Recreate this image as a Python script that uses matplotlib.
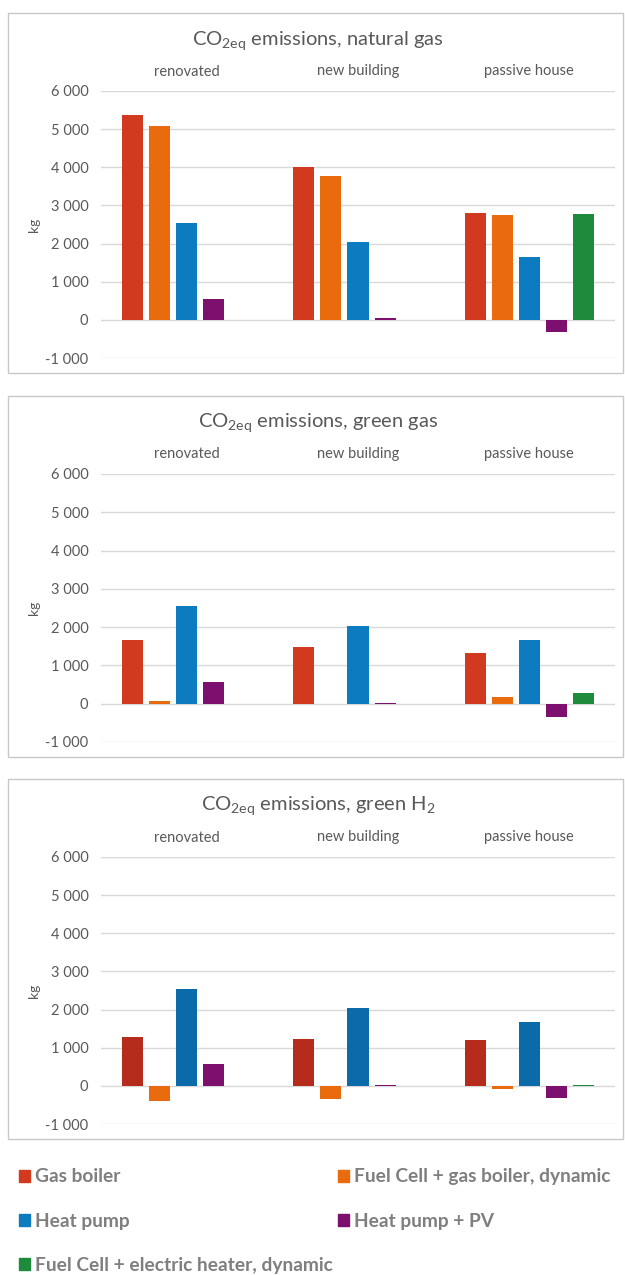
import matplotlib
matplotlib.use("Agg")
import matplotlib.pyplot as plt
from matplotlib.patches import Rectangle, Patch
import numpy as np

plt.rcParams['font.family'] = ['Lato', 'DejaVu Sans']
plt.rcParams['mathtext.fontset'] = 'custom'
plt.rcParams['mathtext.rm'] = 'Lato'
plt.rcParams['mathtext.it'] = 'Lato:italic'
plt.rcParams['mathtext.bf'] = 'Lato:bold'
plt.rcParams['mathtext.default'] = 'regular'

# building types (x categories)
categories = ["renovated", "new building", "passive house"]
series_names = ["Gas boiler", "Fuel Cell + gas boiler, dynamic", "Heat pump",
                "Heat pump + PV", "Fuel Cell + electric heater, dynamic"]

# natural gas, kg CO2eq
ng_gas_boiler = [5380, 4010, 2810]
ng_fc_gas_boiler = [5080, 3770, 2740]
ng_heat_pump = [2540, 2040, 1660]
ng_heat_pump_pv = [550, 40, -330]
ng_fc_electric = [0, 0, 2770]

# green gas
gg_gas_boiler = [1660, 1490, 1330]
gg_fc_gas_boiler = [80, 0, 180]
gg_heat_pump = [2540, 2030, 1670]
gg_heat_pump_pv = [570, 30, -340]
gg_fc_electric = [0, 0, 290]

# green H2
h2_gas_boiler = [1290, 1240, 1200]
h2_fc_gas_boiler = [-410, -350, -80]
h2_heat_pump = [2550, 2050, 1670]
h2_heat_pump_pv = [570, 20, -330]
h2_fc_electric = [0, 0, 20]

yticks = [-1000, 0, 1000, 2000, 3000, 4000, 5000, 6000]

colors = ["#D13A1E", "#EA6A0E", "#0C7BC0", "#7D0F6E", "#1E8A3C"]
colors_h2 = ["#B52B1C", "#EA6A0E", "#0B6BAA", "#7D0F6E", "#1E8A3C"]

panels = [
    (r"CO$_{2eq}$ emissions, natural gas",
     [ng_gas_boiler, ng_fc_gas_boiler, ng_heat_pump, ng_heat_pump_pv, ng_fc_electric], colors),
    (r"CO$_{2eq}$ emissions, green gas",
     [gg_gas_boiler, gg_fc_gas_boiler, gg_heat_pump, gg_heat_pump_pv, gg_fc_electric], colors),
    (r"CO$_{2eq}$ emissions, green H$_2$",
     [h2_gas_boiler, h2_fc_gas_boiler, h2_heat_pump, h2_heat_pump_pv, h2_fc_electric], colors_h2),
]

W, H = 625, 1275
fig = plt.figure(figsize=(6.25, 12.75), dpi=100)

# (box top, box bottom, title y, plot top, plot bottom) in pixels
layout = [
    (13, 373, 41, 91, 358),
    (396, 757, 423, 474, 742),
    (779, 1139, 806, 857, 1124),
]

txt = "#595959"
grid_c = "#D9D9D9"
x = np.arange(len(categories))
step = 0.158
width = 0.123

for (title, data, cols), (btop, bbot, ty, ptop, pbot) in zip(panels, layout):
    fig.patches.append(Rectangle((8 / W, 1 - bbot / H), (623 - 8) / W, (bbot - btop) / H,
                                 transform=fig.transFigure, fill=False,
                                 edgecolor="#C8C8C8", linewidth=1))
    ax = fig.add_axes([101 / W, 1 - pbot / H, 514 / W, (pbot - ptop) / H])
    for i, vals in enumerate(data):
        ax.bar(x + (i - 2) * step, vals, width, color=cols[i], zorder=3)
    ax.set_xlim(-0.5, 2.5)
    ax.set_ylim(-1000, 6000)
    ax.set_yticks(yticks)
    ax.set_yticklabels([f"{v:,}".replace(",", " ") for v in yticks])
    ax.set_xticks(x)
    ax.set_xticklabels(categories)
    ax.xaxis.tick_top()
    ax.tick_params(axis="x", length=0, pad=9, labelsize=10.5, labelcolor=txt)
    ax.tick_params(axis="y", length=0, pad=9, labelsize=10.5, labelcolor=txt)
    ax.grid(axis="y", color=grid_c, linewidth=1, zorder=0)
    for s in ax.spines.values():
        s.set_visible(False)
    ax.set_ylabel("kg", color=txt, fontsize=10, labelpad=4)
    fig.text(318 / W, 1 - ty / H, title, ha="center", va="center",
             fontsize=14.5, color=txt)

handles = [Patch(color=c) for c in colors]
order = [0, 2, 4, 1, 3]
fig.legend([handles[i] for i in order], [series_names[i] for i in order],
           loc="upper left", bbox_to_anchor=(6 / W, 1 - 1155 / H), ncol=2,
           frameon=False, handlelength=0.55, handleheight=0.6, handletextpad=0.25,
           labelspacing=1.42, columnspacing=0.3, borderpad=0.2,
           prop={"weight": "bold", "size": 13.8}, labelcolor="#7F7F7F")

fig.savefig("out.png", dpi=100, facecolor="white")
